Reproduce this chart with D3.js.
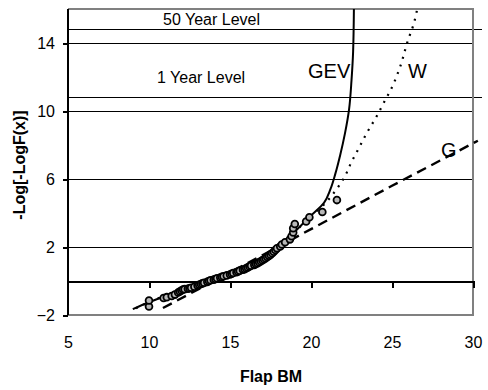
<!DOCTYPE html>
<html><head><meta charset="utf-8">
<script src="https://cdn.jsdelivr.net/npm/d3@7"></script>
<style>body{margin:0;background:#fff}svg{display:block;font-family:"Liberation Sans",Arial,sans-serif}</style>
</head><body>
<svg id="c" width="488" height="390"></svg>
<script>
// ---- data ----
const xTicks = [5, 10, 15, 20, 25, 30];
const yTicks = [-2, 2, 6, 10, 14];
const levelValues = [14.8, 10.8];
const levelLabels = ["50 Year Level", "1 Year Level"];

const obsX = [10.0,10.0,10.9,11.1,11.4,11.6,11.8,11.9,12.0,12.1,12.2,12.4,12.5,12.6,12.8,13.0,13.1,13.2,13.3,13.4,13.6,13.7,13.8,14.0,14.1,14.2,14.4,14.5,14.6,14.8,15.0,15.1,15.2,15.4,15.5,15.6,15.8,15.9,16.0,16.1,16.2,16.3,16.5,16.6,16.7,16.8,16.9,17.0,17.1,17.2,17.3,17.4,17.5,17.6,17.7,17.8,17.9,18.1,18.2,18.4,18.7,18.8,18.9,18.9,19.0,19.7,19.9,20.7,21.6];
const obsY = [-1.5,-1.15,-1.0,-0.95,-0.88,-0.8,-0.68,-0.62,-0.56,-0.5,-0.48,-0.46,-0.43,-0.4,-0.34,-0.27,-0.22,-0.18,-0.14,-0.1,-0.05,0.0,0.04,0.08,0.12,0.16,0.2,0.24,0.28,0.33,0.38,0.43,0.47,0.52,0.56,0.61,0.66,0.7,0.75,0.8,0.85,0.9,0.95,1.0,1.05,1.1,1.16,1.22,1.28,1.34,1.41,1.48,1.55,1.63,1.72,1.82,1.92,2.03,2.15,2.28,2.45,2.63,2.85,3.1,3.35,3.5,3.75,4.06,4.76];

const gevX = [9.0,10,11,12,13,14,15,16,17,18,19,20,20.8,21.2,21.5,21.8,22.1,22.35,22.5,22.6,22.65];
const gevY = [-1.65,-1.25,-0.88,-0.52,-0.18,0.15,0.5,0.9,1.38,2.0,2.9,3.85,4.6,5.4,6.3,7.4,8.7,10.1,11.8,13.5,16.2];

const wX = [9.2,10,11,12,13,14,15,16,17,18,19,20,21,21.5,22,22.5,23,23.5,24,24.5,25,25.5,26,26.3,26.6];
const wY = [-1.6,-1.25,-0.85,-0.5,-0.18,0.15,0.5,0.9,1.4,2.05,2.9,3.8,4.7,5.3,6.0,7.0,7.9,8.8,9.6,10.5,11.4,12.6,14.2,15.0,16.2];

const gX = [10.86,15,20,25,30.3];
const gY = [-1.59,0.5,3.05,5.6,8.25];

const curveLabels = [{t:"GEV",x:308,y:78},{t:"W",x:408,y:78},{t:"G",x:441,y:157}];

// ---- layout ----
const L = 68, R = 473, T = 9, B = 315;
const svg = d3.select("#c");
const x = d3.scaleLinear().domain([5, 30]).range([L, R]);
const y = d3.scaleLinear().domain([-2, 16]).range([B, T]);

const plot = svg.append("g").attr("shape-rendering", "crispEdges");
svg.append("defs").append("clipPath").attr("id","clip")
  .append("rect").attr("x", L).attr("y", T).attr("width", R - L + 10).attr("height", B - T);

// gridlines
plot.selectAll("line.grid").data(yTicks.filter(d => d > -2)).enter().append("line")
  .attr("x1", L).attr("x2", R).attr("y1", d => Math.round(y(d)) + 0.5).attr("y2", d => Math.round(y(d)) + 0.5)
  .attr("stroke", "#000").attr("stroke-width", 1);
// level lines
plot.selectAll("line.lvl").data(levelValues).enter().append("line")
  .attr("x1", L).attr("x2", x(30.55)).attr("y1", d => Math.round(y(d)) + 0.5).attr("y2", d => Math.round(y(d)) + 0.5)
  .attr("stroke", "#000").attr("stroke-width", 1);

// border (gray)
plot.append("path")
  .attr("d", `M${L},${T}H${R}V${B}H${L}`)
  .attr("fill", "none").attr("stroke", "#808080").attr("stroke-width", 2);

// x axis at y=0 (ticks), labels below plot
const xAxis = d3.axisBottom(x).tickValues(xTicks).tickSizeInner(7).tickSizeOuter(0)
  .tickPadding(49).tickFormat(d3.format("d"));
const gx = svg.append("g").attr("transform", `translate(0,${y(0)})`).attr("shape-rendering", "crispEdges").call(xAxis);
gx.select(".domain").attr("stroke", "#000").attr("stroke-width", 2);
gx.selectAll(".tick line").attr("stroke", "#000").attr("stroke-width", 2)
  .attr("display", d => d === 5 ? "none" : null);
gx.selectAll("text").attr("font-size", 16).attr("fill", "#000")
  .attr("font-family", '"Liberation Sans",Arial,sans-serif');

// y axis
const yAxis = d3.axisLeft(y).tickValues(yTicks).tickSizeInner(5).tickSizeOuter(0).tickPadding(8);
const gy = svg.append("g").attr("transform", `translate(${L},0)`).attr("shape-rendering", "crispEdges").call(yAxis);
gy.select(".domain").attr("stroke", "#000").attr("stroke-width", 2.5).attr("d", `M0,${T}V${B}`);
gy.selectAll(".tick line").attr("stroke", "#000").attr("stroke-width", 2);
gy.selectAll("text").attr("font-size", 16).attr("fill", "#000")
  .attr("font-family", '"Liberation Sans",Arial,sans-serif');

// curves
const line = d3.line().x(d => x(d[0])).y(d => y(d[1]));
const curves = svg.append("g").attr("clip-path", "url(#clip)");
curves.append("path").datum(d3.zip(gX, gY)).attr("d", line)
  .attr("fill", "none").attr("stroke", "#000").attr("stroke-width", 2.4).attr("stroke-dasharray", "10,6");
curves.append("path").datum(d3.zip(wX, wY)).attr("d", d3.line().x(d => x(d[0])).y(d => y(d[1])).curve(d3.curveMonotoneY))
  .attr("fill", "none").attr("stroke", "#000").attr("stroke-width", 2.2).attr("stroke-dasharray", "2,6");
curves.append("path").datum(d3.zip(gevX, gevY)).attr("d", d3.line().x(d => x(d[0])).y(d => y(d[1])).curve(d3.curveMonotoneY))
  .attr("fill", "none").attr("stroke", "#000").attr("stroke-width", 2);

// points
svg.append("g").selectAll("circle").data(d3.zip(obsX, obsY)).enter().append("circle")
  .attr("cx", d => x(d[0])).attr("cy", d => y(d[1])).attr("r", 3.4)
  .attr("fill", "#b8b8b8").attr("stroke", "#000").attr("stroke-width", 1.8);

// level labels
svg.append("text").text(levelLabels[0]).attr("x", 163).attr("y", 25).attr("font-size", 16);
svg.append("text").text(levelLabels[1]).attr("x", 157).attr("y", 83).attr("font-size", 16);
// curve labels
svg.selectAll("text.cl").data(curveLabels).enter().append("text")
  .text(d => d.t).attr("x", d => d.x).attr("y", d => d.y).attr("font-size", 20);

// axis titles
svg.append("text").text("Flap BM").attr("x", 271).attr("y", 382)
  .attr("text-anchor", "middle").attr("font-weight", "bold").attr("font-size", 16);
svg.append("text").text("-Log[-LogF(x)]")
  .attr("transform", "translate(25,165) rotate(-90)")
  .attr("text-anchor", "middle").attr("font-weight", "bold").attr("font-size", 16);
</script>
</body></html>
